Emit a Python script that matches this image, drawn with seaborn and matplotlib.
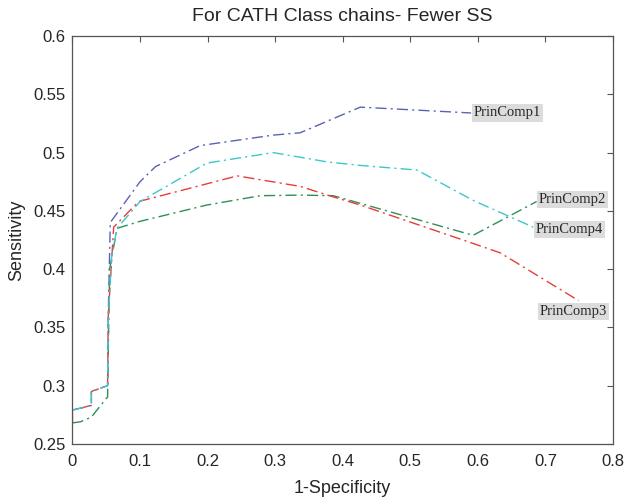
import matplotlib
matplotlib.use("Agg")
import matplotlib.pyplot as plt
import seaborn as sns
import pandas as pd

# ROC-like curves
pc1_x = [0.0, 0.028, 0.028, 0.052, 0.053, 0.056, 0.1, 0.123, 0.189, 0.297, 0.337, 0.426, 0.59]
pc1_y = [0.279, 0.283, 0.295, 0.300, 0.36, 0.440, 0.475, 0.488, 0.506, 0.515, 0.517, 0.539, 0.534]

pc2_x = [0.0, 0.012, 0.028, 0.05, 0.052, 0.055, 0.066, 0.1, 0.199, 0.278, 0.337, 0.386, 0.593, 0.687]
pc2_y = [0.268, 0.269, 0.273, 0.289, 0.290, 0.40, 0.435, 0.441, 0.455, 0.463, 0.4635, 0.463, 0.429, 0.458]

pc3_x = [0.0, 0.0, 0.028, 0.028, 0.052, 0.053, 0.061, 0.098, 0.244, 0.337, 0.386, 0.426, 0.593, 0.633, 0.749]
pc3_y = [0.268, 0.279, 0.283, 0.295, 0.300, 0.36, 0.436, 0.458, 0.480, 0.471, 0.462, 0.455, 0.422, 0.414, 0.373]

pc4_x = [0.0, 0.028, 0.028, 0.052, 0.053, 0.058, 0.066, 0.1, 0.199, 0.297, 0.377, 0.426, 0.51, 0.593, 0.682]
pc4_y = [0.279, 0.283, 0.295, 0.300, 0.36, 0.41, 0.435, 0.458, 0.491, 0.500, 0.492, 0.489, 0.485, 0.459, 0.436]

names = ["PrinComp1", "PrinComp2", "PrinComp3", "PrinComp4"]
colors = ["#5a62b5", "#2e8f55", "#e83c3c", "#3cc8c8"]
label_pos = [(0.594, 0.534), (0.69, 0.460), (0.686, 0.434), (0.692, 0.364)]

frames = []
for name, xs, ys in zip(names, [pc1_x, pc2_x, pc3_x, pc4_x], [pc1_y, pc2_y, pc3_y, pc4_y]):
    frames.append(pd.DataFrame({"fpr": xs, "tpr": ys, "comp": name}))
df = pd.concat(frames, ignore_index=True)

sns.set_style("white")
plt.rcParams["font.family"] = ["Liberation Sans", "DejaVu Sans"]

fig = plt.figure(figsize=(6.3, 5.01), dpi=100)
ax = fig.add_axes([0.115, 0.114, 0.858, 0.814])

for name, col in zip(names, colors):
    sub = df[df["comp"] == name]
    sns.lineplot(data=sub, x="fpr", y="tpr", sort=False, estimator=None,
                 color=col, linewidth=1.0, ax=ax)
    ax.lines[-1].set_dashes([8, 3, 1.5, 3])

# text labels next to the curve ends
order = ["PrinComp1", "PrinComp2", "PrinComp4", "PrinComp3"]
for name, (lx, ly) in zip(order, label_pos):
    ax.text(lx, ly, name, family="Liberation Serif", fontsize=10.5, va="center", ha="left",
            bbox=dict(facecolor="#dcdcdc", edgecolor="none", pad=1.5))

ax.set_xlim(0, 0.8)
ax.set_ylim(0.25, 0.6)
ax.set_xticks([0, 0.1, 0.2, 0.3, 0.4, 0.5, 0.6, 0.7, 0.8])
ax.set_xticklabels(["0", "0.1", "0.2", "0.3", "0.4", "0.5", "0.6", "0.7", "0.8"])
ax.set_yticks([0.25, 0.3, 0.35, 0.4, 0.45, 0.5, 0.55, 0.6])
ax.set_yticklabels(["0.25", "0.3", "0.35", "0.4", "0.45", "0.5", "0.55", "0.6"])
ax.tick_params(direction="in", top=True, right=True, length=4, width=0.8,
               color="#555555", labelsize=12)
ax.tick_params(axis="y", pad=5)
ax.tick_params(axis="x", pad=7)
for sp in ax.spines.values():
    sp.set_color("#555555")
    sp.set_linewidth(0.9)

ax.set_xlabel("1-Specificity", fontsize=13, labelpad=8)
ax.set_ylabel("Sensitivity", fontsize=13, labelpad=6)
ax.set_title("For CATH Class chains- Fewer SS", fontsize=14, pad=11)

fig.savefig("out.png", dpi=100)
